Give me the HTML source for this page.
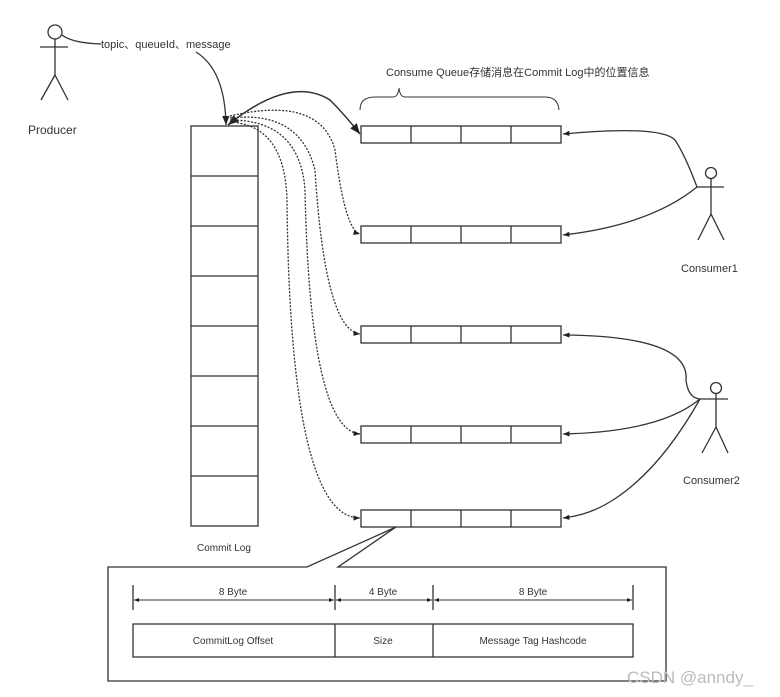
<!DOCTYPE html>
<html><head><meta charset="utf-8"><style>
html,body{margin:0;padding:0;background:#fff;}
svg{display:block;}
text{font-family:"Liberation Sans","Noto Sans CJK SC",sans-serif;fill:#333;}
</style></head><body>
<svg width="780" height="697" viewBox="0 0 780 697" xmlns="http://www.w3.org/2000/svg">
<defs>
<marker id="a" viewBox="0 0 10 10" refX="10" refY="5" markerWidth="7" markerHeight="7" orient="auto-start-reverse"><path d="M0,1 L10,5 L0,9 z" fill="#222"/></marker>
<marker id="s" viewBox="0 0 10 10" refX="10" refY="5" markerWidth="5" markerHeight="5" orient="auto-start-reverse"><path d="M0,1 L10,5 L0,9 z" fill="#222"/></marker>
</defs>
<g stroke="#333" stroke-width="1.3" fill="none">
<circle cx="55" cy="32" r="7"/>
<line x1="55" y1="39" x2="55" y2="75"/>
<line x1="40" y1="47" x2="68" y2="47"/>
<line x1="55" y1="75" x2="41" y2="100"/>
<line x1="55" y1="75" x2="68" y2="100"/>
<path d="M62,35 Q72,43 101,44"/>
<path d="M196,52 Q225,70 226,125" marker-end="url(#a)"/>
<rect x="191" y="126" width="67" height="400"/>
<line x1="191" y1="176" x2="258" y2="176"/>
<line x1="191" y1="226" x2="258" y2="226"/>
<line x1="191" y1="276" x2="258" y2="276"/>
<line x1="191" y1="326" x2="258" y2="326"/>
<line x1="191" y1="376" x2="258" y2="376"/>
<line x1="191" y1="426" x2="258" y2="426"/>
<line x1="191" y1="476" x2="258" y2="476"/>
<g>
<rect x="361" y="126" width="200" height="17"/><line x1="411" y1="126" x2="411" y2="143"/><line x1="461" y1="126" x2="461" y2="143"/><line x1="511" y1="126" x2="511" y2="143"/>
<rect x="361" y="226" width="200" height="17"/><line x1="411" y1="226" x2="411" y2="243"/><line x1="461" y1="226" x2="461" y2="243"/><line x1="511" y1="226" x2="511" y2="243"/>
<rect x="361" y="326" width="200" height="17"/><line x1="411" y1="326" x2="411" y2="343"/><line x1="461" y1="326" x2="461" y2="343"/><line x1="511" y1="326" x2="511" y2="343"/>
<rect x="361" y="426" width="200" height="17"/><line x1="411" y1="426" x2="411" y2="443"/><line x1="461" y1="426" x2="461" y2="443"/><line x1="511" y1="426" x2="511" y2="443"/>
<rect x="361" y="510" width="200" height="17"/><line x1="411" y1="510" x2="411" y2="527"/><line x1="461" y1="510" x2="461" y2="527"/><line x1="511" y1="510" x2="511" y2="527"/>
</g>
<path d="M360,110 Q360,97 375,97 L393,97 Q398,97 399,88 Q400,97 405,97 L545,97 Q558,97 559,110" stroke-width="1"/>
<path d="M228,125 Q290,75 330,100 Q345,115 360,134" stroke-width="1.5" marker-end="url(#a)" marker-start="url(#a)"/>
<path d="M230,116 Q320,95 335,150 Q345,230 360,234" stroke-dasharray="2,1.5" marker-end="url(#s)"/>
<path d="M230,118 Q300,110 315,170 Q325,330 360,334" stroke-dasharray="2,1.5" marker-end="url(#s)"/>
<path d="M230,120 Q300,120 305,190 Q310,430 360,434" stroke-dasharray="2,1.5" marker-end="url(#s)"/>
<path d="M230,122 Q285,125 287,200 Q290,518 360,518" stroke-dasharray="2,1.5" marker-end="url(#s)"/>
<circle cx="711" cy="173" r="5.5"/>
<line x1="711" y1="179" x2="711" y2="214"/>
<line x1="697" y1="187" x2="724" y2="187"/>
<line x1="711" y1="214" x2="698" y2="240"/>
<line x1="711" y1="214" x2="724" y2="240"/>
<path d="M697,187 Q685,155 675,140 Q660,125 563,134" marker-end="url(#s)"/>
<path d="M697,187 Q650,225 563,235" marker-end="url(#s)"/>
<circle cx="716" cy="388" r="5.5"/>
<line x1="716" y1="394" x2="716" y2="427"/>
<line x1="700" y1="399" x2="728" y2="399"/>
<line x1="716" y1="427" x2="702" y2="453"/>
<line x1="716" y1="427" x2="728" y2="453"/>
<path d="M700,399 Q688,398 686,380 Q690,336 563,335" marker-end="url(#s)"/>
<path d="M700,399 Q660,432 563,434" marker-end="url(#s)"/>
<path d="M700,399 Q660,470 613,500 Q590,515 563,518" marker-end="url(#s)"/>
<path d="M307,567 L108,567 L108,681 L666,681 L666,567 L338,567 L396,527 Z"/>
<rect x="133" y="624" width="500" height="33"/>
<line x1="335" y1="624" x2="335" y2="657"/>
<line x1="433" y1="624" x2="433" y2="657"/>
<line x1="133" y1="585" x2="133" y2="610"/>
<line x1="335" y1="585" x2="335" y2="610"/>
<line x1="433" y1="585" x2="433" y2="610"/>
<line x1="633" y1="585" x2="633" y2="610"/>
<line x1="134" y1="600" x2="334" y2="600" marker-end="url(#s)" marker-start="url(#s)" stroke-width="1"/>
<line x1="336" y1="600" x2="432" y2="600" marker-end="url(#s)" marker-start="url(#s)" stroke-width="1"/>
<line x1="434" y1="600" x2="632" y2="600" marker-end="url(#s)" marker-start="url(#s)" stroke-width="1"/>
</g>
<g font-size="10">
<text x="101" y="48" font-size="11">topic、queueId、message</text>
<text x="386" y="76" font-size="11">Consume Queue存储消息在Commit Log中的位置信息</text>
<text x="233" y="595" text-anchor="middle">8 Byte</text>
<text x="383" y="595" text-anchor="middle">4 Byte</text>
<text x="533" y="595" text-anchor="middle">8 Byte</text>
<text x="233" y="644" text-anchor="middle">CommitLog Offset</text>
<text x="383" y="644" text-anchor="middle">Size</text>
<text x="533" y="644" text-anchor="middle">Message Tag Hashcode</text>
<text x="197" y="551">Commit Log</text>
</g>
<g font-size="12">
<text x="28" y="134">Producer</text>
<text x="681" y="272" font-size="11">Consumer1</text>
<text x="683" y="484" font-size="11">Consumer2</text>
</g>
<text x="627" y="683" font-size="17" style="fill:#bbb">CSDN @anndy_</text>
</svg>
</body></html>
